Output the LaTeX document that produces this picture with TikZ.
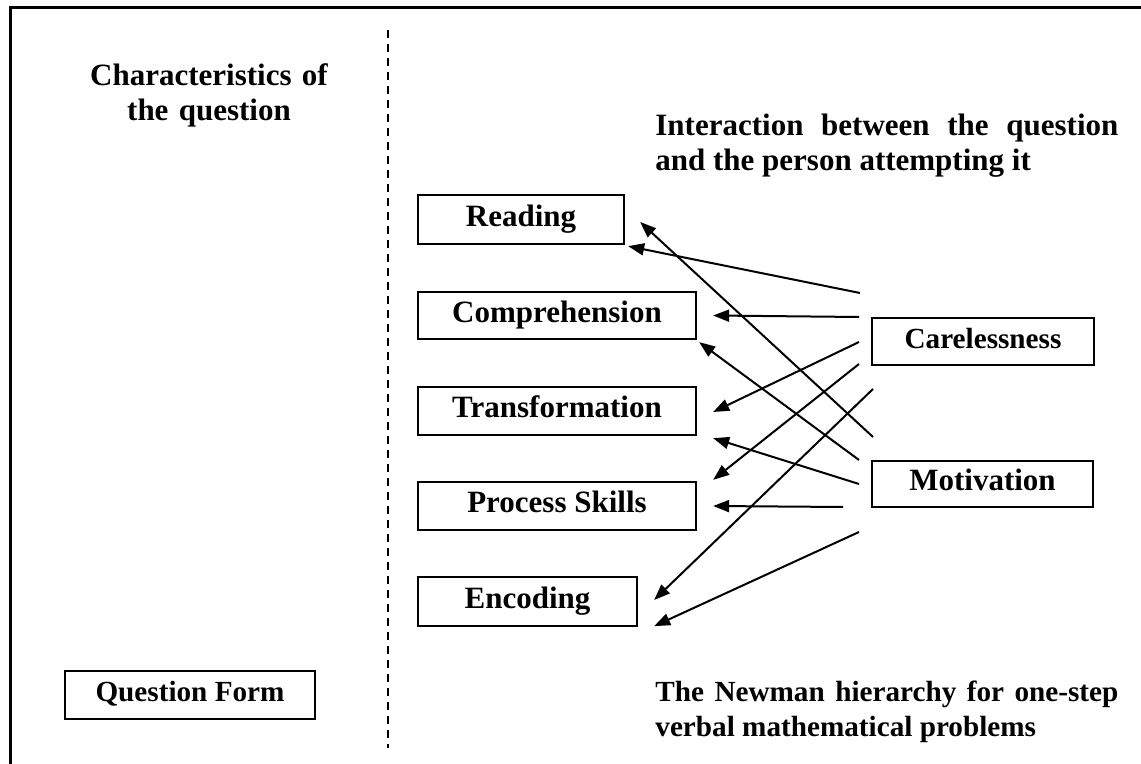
\documentclass[tikz,border=0pt]{standalone}
\usepackage{fontspec}
\setmainfont{Liberation Serif}
\usetikzlibrary{arrows.meta}
\begin{document}
\begin{tikzpicture}[x=0.5pt,y=-0.5pt,
  txt/.style={font=\fontsize{15.5}{17.5}\selectfont\bfseries},
  smalltxt/.style={font=\fontsize{14.6}{17.5}\selectfont\bfseries},
  stagebox/.style={txt,draw,line width=1.15pt,inner sep=0pt,
    text height=0.66em,text depth=0pt},
  heading/.style={txt,inner sep=0pt},
  link/.style={line width=1pt,-{Triangle[length=8pt,width=6pt]}},
]
\useasboundingbox (0,0) rectangle (1141,764);

% outer frame (top and left) and the dashed divider
\draw[line width=1.5pt] (1141,8) -- (10,8) -- (10,764);
\draw[line width=1pt,dash pattern=on 4pt off 3pt] (388,30) -- (388,748);

% headings
\node[heading,anchor=base,text width=150pt,align=center] (charq) at (209,86)
  {Characteristics of\\the question};
\node[heading,anchor=base west,text width=231.5pt,align=justify] (inter) at (655,136)
  {Interaction between the question and the person attempting it};
\node[heading,anchor=base west,text width=231.5pt,align=justify,smalltxt] (newman) at (655,701)
  {The Newman hierarchy for one-step verbal mathematical problems};

% Newman stages
\node[stagebox,minimum width=103pt,minimum height=24.5pt] (read)  at (521,219.5) {Reading};
\node[stagebox,minimum width=139pt,minimum height=23.5pt] (comp)  at (557,315.5) {Comprehension};
\node[stagebox,minimum width=139pt,minimum height=24pt]   (trans) at (557,411)   {Transformation};
\node[stagebox,minimum width=139pt,minimum height=24pt]   (proc)  at (557,506)   {Process Skills};
\node[stagebox,minimum width=109.5pt,minimum height=24.5pt] (enc) at (527.5,601.5) {Encoding};

% interacting factors
\node[stagebox,smalltxt,minimum width=111pt,minimum height=23.5pt] (carel) at (983,341.5) {Carelessness};
\node[stagebox,minimum width=110.5pt,minimum height=23pt] (motiv) at (982.5,484) {Motivation};

% question characteristics
\node[stagebox,smalltxt,minimum width=125pt,minimum height=24pt] (qform) at (190,695) {Question Form};

% starting points of the arrows beside the two factors
\coordinate (c1) at (860,293);
\coordinate (c2) at (859,317);
\coordinate (c3) at (859,342);
\coordinate (c4) at (859,364);
\coordinate (c5) at (873,389);
\coordinate (m1) at (873,437);
\coordinate (m2) at (859,460);
\coordinate (m3) at (859,484);
\coordinate (m4) at (843,507);
\coordinate (m5) at (859,532);

% carelessness affects every stage
\draw[link] (c1) -- ([xshift=1.5pt,yshift=-0.5pt]read.south east);
\draw[link] (c2) -- ([xshift=8pt]comp.east);
\draw[link] (c3) -- ([xshift=8pt,yshift=-0.5pt]trans.east);
\draw[link] (c4) -- ([xshift=8pt,yshift=0.5pt]proc.north east);
\draw[link] (c5) -- ([xshift=8pt,yshift=0.75pt]enc.east);

% motivation affects every stage
\draw[link] (m1) -- ([xshift=7.5pt,yshift=-1.25pt]read.east);
\draw[link] (m2) -- ([xshift=1pt,yshift=-1pt]comp.south east);
\draw[link] (m3) -- ([xshift=8pt,yshift=-1pt]trans.south east);
\draw[link] (m4) -- ([xshift=8pt]proc.east);
\draw[link] (m5) -- ([xshift=8pt,yshift=0.5pt]enc.south east);
\end{tikzpicture}
\end{document}
